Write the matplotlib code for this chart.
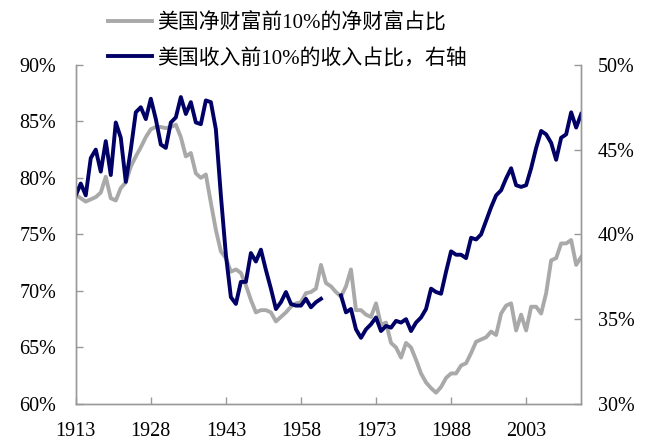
import numpy as np
import matplotlib
matplotlib.use("Agg")
import matplotlib.pyplot as plt

plt.rcParams['font.family'] = ['Liberation Serif', 'Noto Sans CJK SC']

# 年份 1913-2014
years = np.arange(1913, 2015)

# 美国净财富前10%的净财富占比（左轴, %）
wealth = [
    78.5, 78.2, 77.9, 78.1, 78.3, 78.7, 80.1, 78.2, 78.0, 79.1,   # 1913-1922
    79.6, 81.0, 81.9, 82.7, 83.6, 84.3, 84.5, 84.5, 84.4, 84.5,   # 1923-1932
    84.7, 83.6, 81.9, 82.2, 80.4, 80.0, 80.3, 77.8, 75.4, 73.5,   # 1933-1942
    72.9, 71.7, 71.9, 71.6, 70.5, 69.2, 68.1, 68.3, 68.3, 68.1,   # 1943-1952
    67.3, 67.7, 68.1, 68.6, 68.9, 69.0, 69.8, 69.9, 70.2, 72.3,   # 1953-1962
    70.7, 70.4, 69.9, 69.5, 70.4, 71.9, 68.3, 68.3, 67.9, 67.7,   # 1963-1972
    68.9, 67.0, 67.2, 65.4, 65.0, 64.1, 65.4, 65.0, 63.9, 62.7,   # 1973-1982
    61.9, 61.4, 61.0, 61.5, 62.3, 62.7, 62.7, 63.4, 63.6, 64.5,   # 1983-1992
    65.5, 65.7, 65.9, 66.4, 66.1, 68.0, 68.7, 68.9, 66.5, 67.9,   # 1993-2002
    66.5, 68.6, 68.6, 68.0, 69.8, 72.7, 72.9, 74.2, 74.2, 74.5,   # 2003-2012
    72.3, 73.0,                                                   # 2013-2014
]

# 美国收入前10%的收入占比（右轴, %），1963-1965 缺失
income = [
    42.3, 43.0, 42.3, 44.5, 45.0, 43.7, 45.5, 43.5, 46.6, 45.7,   # 1913-1922
    43.1, 45.0, 47.2, 47.5, 46.8, 48.0, 46.8, 45.3, 45.1, 46.6,   # 1923-1932
    46.9, 48.1, 47.1, 47.8, 46.6, 46.5, 47.9, 47.8, 46.2, 42.3,   # 1933-1942
    38.8, 36.3, 35.9, 37.2, 37.2, 38.9, 38.4, 39.1, 37.9, 36.8,   # 1943-1952
    35.6, 36.0, 36.6, 35.9, 35.8, 35.8, 36.2, 35.7, 36.0, 36.2,   # 1953-1962
    np.nan, np.nan, np.nan, 36.4, 35.4, 35.6, 34.4, 33.9, 34.4, 34.7,  # 1963-1972
    35.1, 34.3, 34.6, 34.5, 34.9, 34.8, 35.0, 34.3, 34.8, 35.1,   # 1973-1982
    35.6, 36.8, 36.6, 36.5, 37.8, 39.0, 38.8, 38.8, 38.6, 39.8,   # 1983-1992
    39.7, 40.0, 40.8, 41.6, 42.3, 42.6, 43.3, 43.9, 42.9, 42.8,   # 1993-2002
    42.9, 43.9, 45.1, 46.1, 45.9, 45.4, 44.4, 45.7, 45.9, 47.2,   # 2003-2012
    46.3, 47.1,                                                   # 2013-2014
]

xticks = [1913, 1928, 1943, 1958, 1973, 1988, 2003]
left_ticks = [60, 65, 70, 75, 80, 85, 90]
right_ticks = [30, 35, 40, 45, 50]

gray = '#A9A9A9'
navy = '#000066'
spine_c = '#999999'

fig = plt.figure(figsize=(6.53, 4.41), dpi=100)
ax = fig.add_axes([0.116, 0.084, 0.774, 0.769])
ax2 = ax.twinx()

l1, = ax.plot(years, wealth, color=gray, lw=2.8, label='美国净财富前10%的净财富占比')
l2, = ax2.plot(years, income, color=navy, lw=2.8, label='美国收入前10%的收入占比，右轴')

ax.set_xlim(1913, 2014)
ax.set_ylim(60, 90)
ax2.set_ylim(30, 50)
ax.set_xticks(xticks)
ax.set_yticks(left_ticks)
ax.set_yticklabels([f'{v}%' for v in left_ticks])
ax2.set_yticks(right_ticks)
ax2.set_yticklabels([f'{v}%' for v in right_ticks])

for a in (ax, ax2):
    a.spines['top'].set_visible(False)
    for s in ('left', 'right', 'bottom'):
        a.spines[s].set_color(spine_c)
        a.spines[s].set_linewidth(1.0)
    a.tick_params(direction='in', length=5, width=1.0, color=spine_c,
                  labelsize=14.5, labelcolor='black')
ax.tick_params(axis='x', pad=13)
ax.tick_params(axis='y', pad=14)
ax2.tick_params(axis='y', pad=12)

fig.legend(handles=[l1, l2], loc='upper left', bbox_to_anchor=(0.137, 1.012),
           frameon=False, fontsize=15, handlelength=2.1, handletextpad=0.25,
           labelspacing=0.72)

fig.savefig('out.png', dpi=100)
